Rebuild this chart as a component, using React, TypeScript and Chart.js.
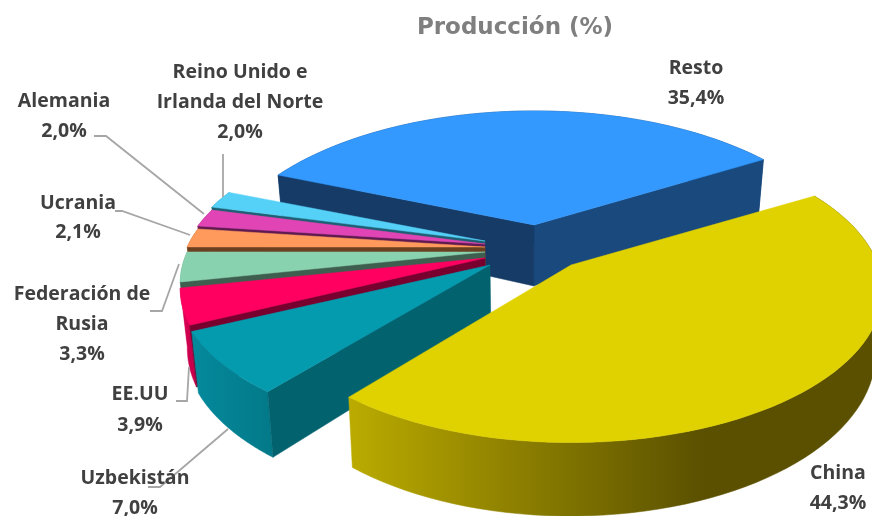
import React, { useEffect, useRef } from "react";
import { Chart, registerables } from "chart.js";

Chart.register(...registerables);

const categories = ["Resto", "China", "Uzbekistán", "EE.UU", "Federación de Rusia", "Ucrania", "Alemania", "Reino Unido e Irlanda del Norte"];
const shares = [35.4, 44.3, 7.0, 3.9, 3.3, 2.1, 2.0, 2.0];
const topColors = ["#3399FF", "#E0D200", "#049BAF", "#FF0060", "#88D2B0", "#FF9A5C", "#E145B5", "#55D0F7"];
const startFaceColors = ["#153B66", "#5A5000", "#02636F", "#78002F", "#3E5F50", "#6B4020", "#5F1A50", "#1E5F72"];
const endFaceColors = ["#19497D", "#B8A800", "#02636F", "#78002F", "#3E5F50", "#6B4020", "#5F1A50", "#1E5F72"];
const rimStops: string[][] = [
  ["#19497D", "#19497D"],
  ["#BBAB00", "#8A7D00", "#5A5000", "#5A5000"],
  ["#048A9C", "#037A8A"],
  ["#F0005A", "#C8004C"],
  ["#5F9C80", "#5F9C80"],
  ["#B06A40", "#B06A40"],
  ["#A03088", "#A03088"],
  ["#3A90AA", "#3A90AA"],
];
// apex of each exploded wedge relative to the pie centre
const apexShift = [[98, -33], [135, 7], [54, 7], [49, 0], [49, -6], [49, -11], [49, -14], [49, -17]];
const radiusScale = [1, 1, 1, 0.97, 0.97, 0.97, 0.97, 0.97];
const perspective = [0.3, 0.17, 0.17, 0.212, 0.212, 0.212, 0.212, 0.212];
const tilt = [0.483, 0.48, 0.46, 0.47, 0.47, 0.47, 0.47, 0.47];
const depth = [61, 61, 57, 56, 56, 56, 56, 56];

const labelLines = [
  ["Resto", "35,4%"],
  ["China", "44,3%"],
  ["Uzbekistán", "7,0%"],
  ["EE.UU", "3,9%"],
  ["Federación de", "Rusia", "3,3%"],
  ["Ucrania", "2,1%"],
  ["Alemania", "2,0%"],
  ["Reino Unido e", "Irlanda del Norte", "2,0%"],
];
const labelAnchors = [[696, 68, 30], [838, 473, 30], [135, 478, 30], [140, 394, 31], [82, 294, 30], [78, 203, 29], [64, 101, 30], [240, 72, 30]];
const leaders = [
  null,
  null,
  [[148, 487], [160, 487], [228, 429]],
  [[176, 401], [187, 401], [189, 367]],
  [[150, 311], [162, 311], [179, 264]],
  [[115, 211], [122, 211], [190, 235]],
  [[94, 136], [106, 136], [204, 214]],
  [[223, 154], [223, 197]],
];
const titleText = "Producción (%)";

const RADIUS_FACTOR = 1.19;
const VANISH_X = 530;
const SKEW = -0.02;

const pie3d = {
  id: "pie3d",
  beforeDatasetsDraw(chart: any) {
    const ctx: CanvasRenderingContext2D = chart.ctx;
    const meta = chart.getDatasetMeta(0);
    const order = [0, 7, 6, 5, 4, 3, 2, 1];
    for (const i of order) {
      const arc = meta.data[i];
      const R = arc.outerRadius * RADIUS_FACTOR * radiusScale[i];
      const ax = arc.x + apexShift[i][0];
      const ay = arc.y + apexShift[i][1];
      const top = (a: number, r = 1) => {
        const u = Math.cos(a) * r;
        const v = Math.sin(a) * r;
        const s = 1 / (1 - perspective[i] * v);
        return { x: ax + R * u * s, y: ay + R * tilt[i] * v * s, s };
      };
      const low = (p: { x: number; y: number; s: number }) => ({
        x: p.x + (p.x - VANISH_X) * SKEW,
        y: p.y + depth[i] * p.s,
        s: p.s,
      });
      const steps = 72;
      const pts: { x: number; y: number; s: number }[] = [];
      for (let k = 0; k <= steps; k++) {
        pts.push(top(arc.startAngle + ((arc.endAngle - arc.startAngle) * k) / steps));
      }
      const apex = top(0, 0);
      const first = pts[0];
      const last = pts[steps];
      const poly = (list: { x: number; y: number }[], fill: any) => {
        ctx.beginPath();
        list.forEach((p, n) => (n ? ctx.lineTo(p.x, p.y) : ctx.moveTo(p.x, p.y)));
        ctx.closePath();
        ctx.fillStyle = fill;
        ctx.strokeStyle = fill;
        ctx.lineWidth = 0.5;
        ctx.fill();
        ctx.stroke();
      };
      // rim
      const xs = pts.map((p) => p.x);
      const grad = ctx.createLinearGradient(Math.min(...xs), 0, Math.max(...xs), 0);
      const stops = rimStops[i];
      stops.forEach((c, n) => grad.addColorStop(n / (stops.length - 1), c));
      poly([...pts, ...pts.slice().reverse().map(low)], grad);
      // radial faces: only the ones that look towards the viewer
      if (i === 0) poly([apex, last, low(last), low(apex)], endFaceColors[i]);
      if (i !== 1) poly([apex, first, low(first), low(apex)], startFaceColors[i]);
      // top face
      poly([apex, ...pts], arc.options.backgroundColor);
    }
    return false;
  },
  afterDraw(chart: any) {
    const ctx: CanvasRenderingContext2D = chart.ctx;
    ctx.save();
    ctx.strokeStyle = "#A6A6A6";
    ctx.lineWidth = 1.8;
    leaders.forEach((line) => {
      if (!line) return;
      ctx.beginPath();
      line.forEach((p, n) => (n ? ctx.lineTo(p[0], p[1]) : ctx.moveTo(p[0], p[1])));
      ctx.stroke();
    });
    ctx.textAlign = "center";
    ctx.textBaseline = "middle";
    ctx.fillStyle = "#404040";
    ctx.font = 'bold 19.5px "Open Sans"';
    labelLines.forEach((lines, i) => {
      const [x, y, gap] = labelAnchors[i];
      lines.forEach((t, n) => ctx.fillText(t, x, y + n * gap));
    });
    ctx.fillStyle = "#7F7F7F";
    ctx.font = 'bold 23px "DejaVu Sans"';
    ctx.fillText(titleText, 515, 28);
    ctx.restore();
  },
};

export default function App() {
  const ref = useRef<HTMLCanvasElement>(null);
  useEffect(() => {
    const chart = new Chart(ref.current as HTMLCanvasElement, {
      type: "pie",
      data: {
        labels: categories,
        datasets: [{ data: shares, backgroundColor: topColors, borderWidth: 0 }],
      },
      options: {
        responsive: false,
        animation: false,
        rotation: -68,
        plugins: { legend: { display: false }, tooltip: { enabled: false }, title: { display: false } },
      },
      plugins: [pie3d],
    } as any);
    return () => chart.destroy();
  }, []);
  return (
    <div style={{ position: "absolute", left: 0, top: 0, width: 872, height: 516, background: "#fff", overflow: "hidden" }}>
      <canvas ref={ref} width={872} height={516} style={{ display: "block" }} />
    </div>
  );
}
